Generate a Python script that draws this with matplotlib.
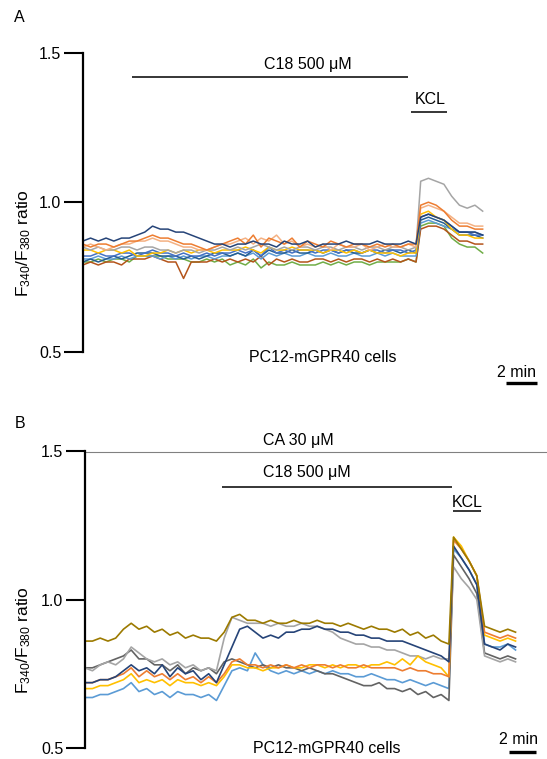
import numpy as np
import matplotlib
matplotlib.use("Agg")
import matplotlib.pyplot as plt

plt.rcParams['font.family'] = ['Liberation Sans', 'DejaVu Sans']
plt.rcParams['mathtext.fontset'] = 'custom'
plt.rcParams['mathtext.rm'] = 'Liberation Sans'
plt.rcParams['mathtext.default'] = 'regular'

# ---------------- panel A data (time in min) ----------------
t_a = np.r_[np.arange(0, 21.6, 0.5), np.arange(21.8, 26.01, 0.5)]

a_navy = [.87, .88, .87, .88, .87, .88, .88, .89, .90, .92,
          .91, .91, .90, .90, .89, .88, .87, .86, .86, .85,
          .86, .86, .87, .86, .86, .85, .87, .86, .86, .87,
          .85, .86, .86, .86, .87, .86, .86, .86, .87, .86,
          .86, .86, .87, .86, .95, .96, .95, .94, .92, .90,
          .90, .90, .89]
a_orange = [.86, .85, .86, .86, .85, .86, .87, .87, .88, .89,
            .88, .88, .87, .86, .86, .85, .84, .85, .86, .87,
            .88, .86, .89, .85, .88, .87, .86, .88, .85, .87,
            .86, .85, .87, .86, .85, .86, .86, .85, .86, .85,
            .86, .85, .86, .86, .99, 1.00, .99, .97, .94, .92,
            .92, .91, .91]
a_peach = [.85, .86, .85, .84, .85, .86, .86, .87, .87, .88,
           .87, .87, .86, .85, .85, .84, .84, .85, .86, .86,
           .87, .88, .86, .88, .87, .89, .86, .87, .85, .86,
           .85, .86, .84, .86, .85, .85, .86, .84, .85, .86,
           .85, .85, .86, .85, .98, .99, .98, .97, .95, .93,
           .93, .92, .92]
a_gray = [.85, .84, .85, .84, .84, .85, .85, .84, .85, .85,
          .84, .84, .83, .84, .84, .83, .84, .84, .85, .84,
          .85, .84, .85, .86, .85, .84, .85, .84, .85, .85,
          .84, .85, .85, .84, .85, .85, .84, .85, .85, .84,
          .85, .85, .84, .85, 1.07, 1.08, 1.07, 1.06, 1.02, .99,
          .98, .99, .97]
a_yellow = [.84, .84, .83, .84, .84, .83, .84, .82, .82, .83,
            .83, .84, .83, .84, .83, .84, .84, .83, .84, .84,
            .84, .85, .84, .83, .85, .84, .84, .85, .84, .84,
            .84, .83, .84, .84, .83, .84, .83, .84, .83, .83,
            .83, .82, .83, .83, .96, .97, .95, .94, .91, .89,
            .89, .88, .88]
a_blue = [.82, .82, .83, .82, .82, .83, .83, .82, .83, .84,
          .83, .83, .82, .83, .82, .82, .83, .82, .83, .83,
          .84, .83, .84, .82, .85, .83, .84, .83, .84, .84,
          .83, .84, .84, .83, .84, .84, .83, .84, .84, .83,
          .84, .84, .83, .84, .95, .96, .95, .94, .92, .90,
          .90, .89, .89]
a_ltblue = [.81, .81, .82, .81, .81, .82, .81, .82, .82, .82,
            .81, .82, .81, .82, .81, .82, .82, .81, .82, .82,
            .83, .82, .83, .81, .83, .82, .83, .82, .82, .83,
            .82, .82, .83, .82, .82, .83, .82, .82, .83, .82,
            .83, .82, .82, .82, .93, .94, .93, .92, .91, .90,
            .90, .90, .89]
a_green = [.80, .80, .81, .80, .81, .81, .80, .82, .82, .82,
           .82, .81, .81, .81, .80, .80, .81, .80, .81, .79,
           .80, .79, .81, .78, .80, .79, .79, .80, .79, .79,
           .79, .80, .79, .80, .79, .80, .80, .79, .80, .80,
           .80, .80, .81, .80, .92, .93, .93, .92, .88, .86,
           .85, .85, .83]
a_brown = [.79, .80, .79, .80, .80, .79, .81, .81, .81, .82,
           .81, .80, .80, .745, .80, .80, .80, .81, .80, .81,
           .80, .81, .80, .82, .79, .81, .80, .81, .80, .80,
           .81, .81, .80, .81, .80, .81, .81, .80, .81, .80,
           .81, .80, .81, .80, .91, .92, .92, .91, .89, .87,
           .87, .86, .86]
a_dkblue = [.80, .81, .80, .81, .82, .81, .82, .83, .83, .83,
            .82, .82, .82, .81, .82, .81, .82, .83, .83, .82,
            .83, .82, .84, .82, .84, .83, .83, .84, .83, .83,
            .84, .83, .84, .83, .84, .83, .83, .84, .83, .84,
            .84, .83, .84, .83, .94, .95, .94, .93, .91, .89,
            .89, .89, .88]

traces_a = [(a_green, '#70AD47'), (a_brown, '#B4541A'), (a_ltblue, '#5B9BD5'),
            (a_dkblue, '#255E91'), (a_blue, '#4472C4'), (a_yellow, '#FFC000'),
            (a_gray, '#A5A5A5'), (a_peach, '#F4B183'), (a_orange, '#ED7D31'),
            (a_navy, '#264478')]

# ---------------- panel B data ----------------
t_b = np.r_[np.arange(0, 24, 0.5), np.arange(23.8, 27.81, 0.5)]

b_gold = [.86, .86, .87, .86, .87, .90, .92, .90, .91, .89,
          .90, .88, .89, .87, .88, .87, .87, .86, .89, .94,
          .95, .93, .93, .92, .93, .92, .92, .93, .92, .92,
          .93, .92, .92, .91, .92, .91, .90, .91, .90, .90,
          .89, .90, .88, .89, .87, .88, .86, .85, 1.21, 1.17,
          1.13, 1.08, .91, .90, .89, .90, .89]
b_gray = [.77, .76, .78, .79, .78, .80, .84, .82, .80, .79,
          .80, .78, .79, .77, .78, .76, .77, .76, .87, .94,
          .93, .92, .92, .92, .91, .92, .91, .91, .92, .91,
          .91, .90, .89, .87, .86, .85, .85, .84, .84, .83,
          .83, .82, .81, .81, .80, .81, .80, .80, 1.11, 1.07,
          1.04, 1.00, .81, .80, .79, .80, .79]
b_navy = [.72, .72, .73, .73, .74, .76, .78, .76, .77, .75,
          .78, .74, .77, .75, .76, .73, .75, .72, .78, .84,
          .90, .91, .89, .87, .88, .87, .89, .89, .90, .90,
          .91, .90, .90, .89, .89, .88, .88, .87, .87, .86,
          .86, .86, .85, .84, .83, .82, .81, .79, 1.18, 1.14,
          1.10, 1.05, .85, .84, .83, .85, .84]
b_dkgray = [.77, .77, .78, .79, .80, .81, .83, .80, .80, .78,
            .78, .76, .78, .75, .77, .76, .77, .75, .79, .80,
            .79, .78, .77, .78, .77, .78, .77, .77, .76, .77,
            .76, .75, .75, .74, .73, .72, .71, .71, .72, .70,
            .70, .69, .70, .68, .69, .67, .68, .66, 1.15, 1.11,
            1.07, 1.02, .82, .81, .80, .81, .80]
b_orange = [.72, .72, .73, .73, .74, .75, .77, .74, .76, .74,
            .75, .73, .75, .73, .74, .72, .74, .72, .75, .79,
            .80, .78, .78, .77, .78, .77, .78, .77, .78, .77,
            .78, .78, .77, .78, .77, .77, .78, .77, .77, .77,
            .77, .76, .77, .76, .76, .75, .75, .74, 1.20, 1.17,
            1.13, 1.08, .89, .88, .87, .88, .87]
b_yellow = [.70, .70, .71, .71, .72, .73, .75, .72, .73, .72,
            .73, .71, .73, .72, .72, .71, .72, .71, .74, .78,
            .78, .77, .77, .76, .77, .77, .78, .77, .77, .78,
            .78, .77, .78, .77, .78, .78, .77, .78, .78, .79,
            .78, .80, .78, .81, .79, .78, .77, .74, 1.21, 1.18,
            1.13, 1.08, .88, .87, .86, .87, .86]
b_ltblue = [.67, .67, .68, .68, .69, .70, .72, .69, .70, .68,
            .69, .67, .69, .68, .68, .67, .68, .66, .71, .76,
            .77, .76, .82, .78, .76, .75, .76, .75, .76, .75,
            .76, .75, .76, .75, .75, .74, .74, .75, .74, .73,
            .73, .72, .73, .72, .71, .72, .71, .70, 1.17, 1.14,
            1.10, 1.05, .85, .84, .84, .85, .83]

traces_b = [(b_ltblue, '#5B9BD5'), (b_dkgray, '#636363'), (b_gray, '#A5A5A5'),
            (b_yellow, '#FFC000'), (b_orange, '#ED7D31'), (b_navy, '#264478'),
            (b_gold, '#9C7A00')]

ylabel = 'F$_{340}$/F$_{380}$ ratio'
fs = 11.5

fig = plt.figure(figsize=(5.47, 7.59), dpi=100)


def style(ax, xmax):
    ax.set_xlim(0, xmax)
    ax.set_ylim(0.5, 1.5)
    for s in ['top', 'right', 'bottom']:
        ax.spines[s].set_visible(False)
    ax.spines['left'].set_linewidth(1.6)
    ax.set_xticks([])
    ax.set_yticks([0.5, 1.0, 1.5])
    ax.set_yticklabels(['0.5', '1.0', '1.5'])
    ax.tick_params(axis='y', length=14, width=1.5, pad=1.5, labelsize=fs)
    ax.patch.set_visible(False)


def bar(ax, x0, x1, y, lw=1.1, color='black'):
    ax.plot([x0, x1], [y, y], color=color, lw=lw, clip_on=False, solid_capstyle='butt')


# Panel A
axA = fig.add_axes([82.8 / 547, 1 - 351.7 / 759, 1 - 82.8 / 547, 299 / 759])
style(axA, 29.95)
for y, c in traces_a:
    axA.plot(t_a, y, color=c, lw=1.1)
bar(axA, 3.15, 21.0, 1.419)
axA.text(14.5, 1.459, 'C18 500 μM', ha='center', va='center', fontsize=fs)
bar(axA, 21.2, 23.5, 1.302)
axA.text(22.4, 1.342, 'KCL', ha='center', va='center', fontsize=fs)
axA.text(15.45, 0.482, 'PC12-mGPR40 cells', ha='center', va='center', fontsize=fs)
axA.text(28.0, 0.432, '2 min', ha='center', va='center', fontsize=fs)
bar(axA, 27.3, 29.3, 0.395, lw=2.4)

# Panel B
axB = fig.add_axes([84.7 / 547, 11 / 759, 1 - 84.7 / 547, 297 / 759])
style(axB, 29.83)
for y, c in traces_b:
    axB.plot(t_b, y, color=c, lw=1.2)
bar(axB, 0.0, 29.83, 1.497, lw=0.8, color='#808080')
axB.text(13.8, 1.537, 'CA 30 μM', ha='center', va='center', fontsize=fs)
bar(axB, 8.86, 23.7, 1.379)
axB.text(14.35, 1.426, 'C18 500 μM', ha='center', va='center', fontsize=fs)
bar(axB, 23.76, 25.57, 1.298)
axB.text(24.7, 1.328, 'KCL', ha='center', va='center', fontsize=fs)
axB.text(15.6, 0.497, 'PC12-mGPR40 cells', ha='center', va='center', fontsize=fs)
axB.text(27.97, 0.527, '2 min', ha='center', va='center', fontsize=fs)
bar(axB, 27.35, 29.1, 0.487, lw=2.4)

# panel letters and y labels
fig.text(19 / 547, 1 - 17 / 759, 'A', ha='center', va='center', fontsize=fs)
fig.text(20 / 547, 1 - 423 / 759, 'B', ha='center', va='center', fontsize=fs)
fig.text(24 / 547, 1 - 243 / 759, ylabel, rotation=90, ha='center', va='center', fontsize=12.5)
fig.text(24 / 547, 1 - 640 / 759, ylabel, rotation=90, ha='center', va='center', fontsize=12.5)

fig.savefig('out.png', dpi=100)
